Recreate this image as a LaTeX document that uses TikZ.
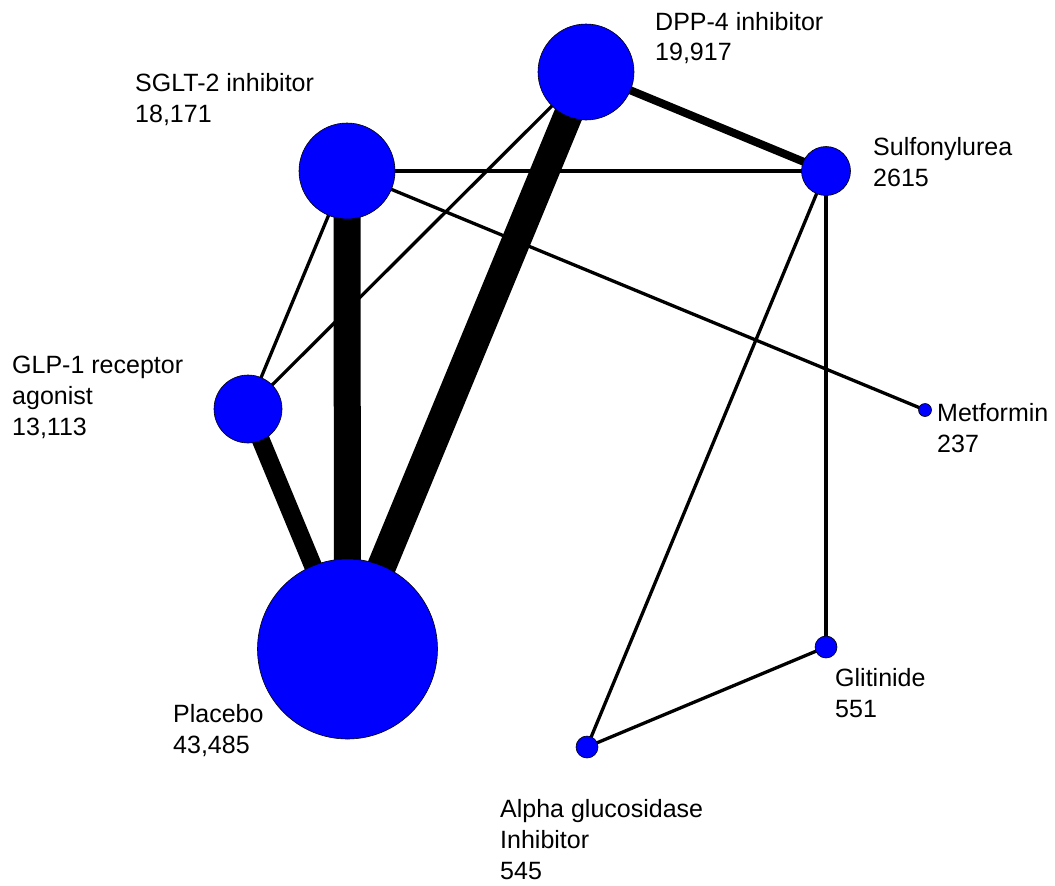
\documentclass[tikz,border=0pt]{standalone}
\usepackage{fontspec}
\setmainfont{Liberation Sans}
\definecolor{nodeblue}{RGB}{0,0,255}
\pgfdeclarelayer{edges}
\pgfsetlayers{edges,main}
\begin{document}
\begin{tikzpicture}[x=1pt,y=-1pt,
  trt/.style={circle,draw=black,line width=0.6pt,fill=nodeblue,inner sep=0pt,minimum size=#1},
  lbl/.style={anchor=base west,inner sep=0pt,font=\fontsize{25}{31}\selectfont},
  link/.style={draw=black,line width=#1,line cap=butt}]
\useasboundingbox (0,0) rectangle (1055,886);

% treatment nodes, sized by number of patients
\node[trt=96pt] (dpp) at (586,72) {};
\node[trt=96pt] (sglt) at (347,171) {};
\node[trt=49pt] (sulf) at (826,171) {};
\node[trt=68pt] (glp) at (248,409) {};
\node[trt=13pt] (met) at (925,410) {};
\node[trt=180pt] (pla) at (347.5,649) {};
\node[trt=22pt] (gli) at (826,647) {};
\node[trt=22pt] (agi) at (587,747) {};

% direct comparisons, width by number of trials
\begin{pgfonlayer}{edges}
\draw[link=29pt] (pla.center) -- (dpp.center);
\draw[link=27pt] (pla.center) -- (sglt.center);
\draw[link=18pt] (pla.center) -- (glp.center);
\draw[link=8pt] (dpp.center) -- (sulf.center);
\draw[link=3.3pt] (sglt.center) -- (glp.center);
\draw[link=3.3pt] (glp.center) -- (dpp.center);
\draw[link=3.3pt] (sglt.center) -- (sulf.center);
\draw[link=3.3pt] (sglt.center) -- (met.center);
\draw[link=3.3pt] (sulf.center) -- (gli.center);
\draw[link=3.3pt] (sulf.center) -- (agi.center);
\draw[link=3.3pt] (gli.center) -- (agi.center);
\end{pgfonlayer}

% labels
\node[lbl] (dppL) at (655,30) {\begin{tabular}[t]{@{}l@{}}DPP-4 inhibitor\\19,917\end{tabular}};
\node[lbl] (sgltL) at (135,91) {\begin{tabular}[t]{@{}l@{}}SGLT-2 inhibitor\\18,171\end{tabular}};
\node[lbl] (sulfL) at (873,155) {\begin{tabular}[t]{@{}l@{}}Sulfonylurea\\2615\end{tabular}};
\node[lbl] (glpL) at (12,373) {\begin{tabular}[t]{@{}l@{}}GLP-1 receptor\\agonist\\13,113\end{tabular}};
\node[lbl] (metL) at (937,421) {\begin{tabular}[t]{@{}l@{}}Metformin\\237\end{tabular}};
\node[lbl] (plaL) at (173,722) {\begin{tabular}[t]{@{}l@{}}Placebo\\43,485\end{tabular}};
\node[lbl] (gliL) at (835,686) {\begin{tabular}[t]{@{}l@{}}Glitinide\\551\end{tabular}};
\node[lbl] (agiL) at (500,817) {\begin{tabular}[t]{@{}l@{}}Alpha glucosidase\\Inhibitor\\545\end{tabular}};
\end{tikzpicture}
\end{document}
